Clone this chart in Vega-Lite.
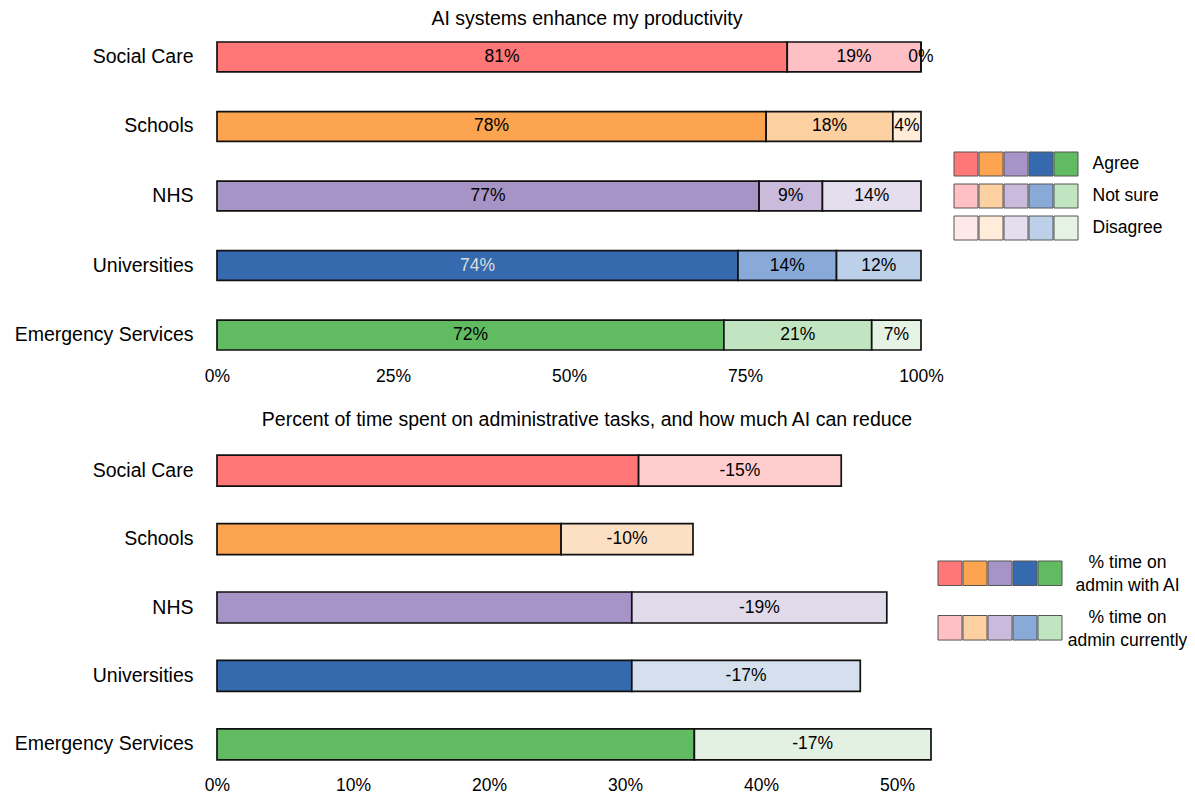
{
  "$schema": "https://vega.github.io/schema/vega-lite/v6.json",
  "padding": {"left": 14, "top": 8, "right": 0, "bottom": 0},
  "config": {
    "view": {"stroke": null},
    "font": "Liberation Sans",
    "locale": {"number": {"decimal": ".", "thousands": ",", "grouping": [3], "currency": ["$", ""], "minus": "-", "percent": "%"}},
    "axis": {"domain": false, "ticks": false, "grid": false, "labelFont": "Liberation Sans", "labelColor": "#000000", "title": null, "labelFlush": false},
    "title": {"font": "Liberation Sans", "fontSize": 19.5, "fontWeight": "normal", "color": "#000000", "anchor": "middle"}
  },
  "datasets": {
    "enhance": [
      {"sector": "Social Care", "response": "Agree", "value": 0.81},
      {"sector": "Social Care", "response": "Not sure", "value": 0.19},
      {"sector": "Social Care", "response": "Disagree", "value": 0.0},
      {"sector": "Schools", "response": "Agree", "value": 0.78},
      {"sector": "Schools", "response": "Not sure", "value": 0.18},
      {"sector": "Schools", "response": "Disagree", "value": 0.04},
      {"sector": "NHS", "response": "Agree", "value": 0.77},
      {"sector": "NHS", "response": "Not sure", "value": 0.09},
      {"sector": "NHS", "response": "Disagree", "value": 0.14},
      {"sector": "Universities", "response": "Agree", "value": 0.74},
      {"sector": "Universities", "response": "Not sure", "value": 0.14},
      {"sector": "Universities", "response": "Disagree", "value": 0.12},
      {"sector": "Emergency Services", "response": "Agree", "value": 0.72},
      {"sector": "Emergency Services", "response": "Not sure", "value": 0.21},
      {"sector": "Emergency Services", "response": "Disagree", "value": 0.07}
    ],
    "admin": [
      {"sector": "Social Care", "measure": "% time on admin with AI", "value": 0.31},
      {"sector": "Social Care", "measure": "% time on admin currently", "value": 0.149, "change": -0.15},
      {"sector": "Schools", "measure": "% time on admin with AI", "value": 0.253},
      {"sector": "Schools", "measure": "% time on admin currently", "value": 0.097, "change": -0.10},
      {"sector": "NHS", "measure": "% time on admin with AI", "value": 0.305},
      {"sector": "NHS", "measure": "% time on admin currently", "value": 0.1875, "change": -0.19},
      {"sector": "Universities", "measure": "% time on admin with AI", "value": 0.305},
      {"sector": "Universities", "measure": "% time on admin currently", "value": 0.168, "change": -0.17},
      {"sector": "Emergency Services", "measure": "% time on admin with AI", "value": 0.351},
      {"sector": "Emergency Services", "measure": "% time on admin currently", "value": 0.174, "change": -0.17}
    ]
  },
  "spacing": 24,
  "vconcat": [
    {
      "bounds": "flush",
      "center": true,
      "spacing": 33,
      "hconcat": [
        {
          "data": {"name": "enhance"},
          "transform": [{"window": [{"op": "row_number", "as": "idx"}]}],
          "title": {"text": "AI systems enhance my productivity", "offset": -2, "dx": 18},
          "width": 704,
          "height": 338,
          "encoding": {
            "y": {"field": "sector", "type": "nominal", "sort": ["Social Care", "Schools", "NHS", "Universities", "Emergency Services"], "scale": {"paddingInner": 0.57, "paddingOuter": 0.216}, "axis": {"labelFontSize": 19.5, "labelPadding": 24}},
            "x": {"field": "value", "type": "quantitative", "stack": "zero", "scale": {"domain": [0, 1], "nice": false}, "axis": {"values": [0, 0.25, 0.5, 0.75, 1], "format": ".0%", "labelFontSize": 17.5, "labelPadding": 2}},
            "detail": {"field": "response", "type": "nominal"},
            "order": {"field": "idx", "type": "quantitative", "sort": "ascending"}
          },
          "layer": [
            {
              "mark": {"type": "bar", "stroke": "#111111", "strokeWidth": 1.7},
              "encoding": {
                "fill": {
                  "condition": [
                    {"test": "datum.sector=='Social Care'&&datum.response=='Agree'", "value": "#ff7777"},
                    {"test": "datum.sector=='Social Care'&&datum.response=='Not sure'", "value": "#ffc0c5"},
                    {"test": "datum.sector=='Social Care'&&datum.response=='Disagree'", "value": "#ffe8ea"},
                    {"test": "datum.sector=='Schools'&&datum.response=='Agree'", "value": "#fca44f"},
                    {"test": "datum.sector=='Schools'&&datum.response=='Not sure'", "value": "#fdd0a2"},
                    {"test": "datum.sector=='Schools'&&datum.response=='Disagree'", "value": "#ffecd9"},
                    {"test": "datum.sector=='NHS'&&datum.response=='Agree'", "value": "#a794c6"},
                    {"test": "datum.sector=='NHS'&&datum.response=='Not sure'", "value": "#cabbdc"},
                    {"test": "datum.sector=='NHS'&&datum.response=='Disagree'", "value": "#e4deee"},
                    {"test": "datum.sector=='Universities'&&datum.response=='Agree'", "value": "#356aae"},
                    {"test": "datum.sector=='Universities'&&datum.response=='Not sure'", "value": "#89aad8"},
                    {"test": "datum.sector=='Universities'&&datum.response=='Disagree'", "value": "#bdd0e9"},
                    {"test": "datum.sector=='Emergency Services'&&datum.response=='Agree'", "value": "#61bb61"},
                    {"test": "datum.sector=='Emergency Services'&&datum.response=='Not sure'", "value": "#c2e5c1"}
                  ],
                  "value": "#e4f3e3"
                }
              }
            },
            {
              "mark": {"type": "text", "fontSize": 17.5, "baseline": "middle", "align": "center"},
              "encoding": {
                "x": {"field": "value", "type": "quantitative", "stack": "zero", "bandPosition": 0.5},
                "text": {"field": "value", "type": "quantitative", "format": ".0%"},
                "fill": {"condition": {"test": "datum.sector=='Universities'&&datum.response=='Agree'", "value": "#dddddd"}, "value": "#000000"}
              }
            }
          ]
        },
        {
          "data": {"name": "enhance"},
          "width": 124,
          "height": 88,
          "mark": {"type": "rect", "stroke": "#555555", "strokeWidth": 1},
          "encoding": {
            "x": {"field": "sector", "type": "nominal", "sort": ["Social Care", "Schools", "NHS", "Universities", "Emergency Services"], "scale": {"paddingInner": 0.04, "paddingOuter": 0}, "axis": null},
            "y": {"field": "response", "type": "nominal", "sort": ["Agree", "Not sure", "Disagree"], "scale": {"paddingInner": 0.25, "paddingOuter": 0}, "axis": {"orient": "right", "labelFontSize": 17.5, "labelPadding": 14}},
            "fill": {
              "condition": [
                {"test": "datum.sector=='Social Care'&&datum.response=='Agree'", "value": "#ff7777"},
                {"test": "datum.sector=='Social Care'&&datum.response=='Not sure'", "value": "#ffc0c5"},
                {"test": "datum.sector=='Social Care'&&datum.response=='Disagree'", "value": "#ffe8ea"},
                {"test": "datum.sector=='Schools'&&datum.response=='Agree'", "value": "#fca44f"},
                {"test": "datum.sector=='Schools'&&datum.response=='Not sure'", "value": "#fdd0a2"},
                {"test": "datum.sector=='Schools'&&datum.response=='Disagree'", "value": "#ffecd9"},
                {"test": "datum.sector=='NHS'&&datum.response=='Agree'", "value": "#a794c6"},
                {"test": "datum.sector=='NHS'&&datum.response=='Not sure'", "value": "#cabbdc"},
                {"test": "datum.sector=='NHS'&&datum.response=='Disagree'", "value": "#e4deee"},
                {"test": "datum.sector=='Universities'&&datum.response=='Agree'", "value": "#356aae"},
                {"test": "datum.sector=='Universities'&&datum.response=='Not sure'", "value": "#89aad8"},
                {"test": "datum.sector=='Universities'&&datum.response=='Disagree'", "value": "#bdd0e9"},
                {"test": "datum.sector=='Emergency Services'&&datum.response=='Agree'", "value": "#61bb61"},
                {"test": "datum.sector=='Emergency Services'&&datum.response=='Not sure'", "value": "#c2e5c1"}
              ],
              "value": "#e4f3e3"
            }
          }
        }
      ]
    },
    {
      "bounds": "flush",
      "center": true,
      "spacing": 7,
      "hconcat": [
        {
          "data": {"name": "admin"},
          "title": {"text": "Percent of time spent on administrative tasks, and how much AI can reduce", "offset": 10, "dx": 13},
          "width": 714,
          "height": 335,
          "encoding": {
            "y": {"field": "sector", "type": "nominal", "sort": ["Social Care", "Schools", "NHS", "Universities", "Emergency Services"], "scale": {"paddingInner": 0.547, "paddingOuter": 0.22}, "axis": {"labelFontSize": 19.5, "labelPadding": 24}},
            "x": {"field": "value", "type": "quantitative", "stack": "zero", "scale": {"domain": [0, 0.525], "nice": false}, "axis": {"values": [0, 0.1, 0.2, 0.3, 0.4, 0.5], "format": ".0%", "labelFontSize": 17.5, "labelPadding": 1}},
            "detail": {"field": "measure", "type": "nominal"},
            "order": {"field": "measure", "sort": "descending"}
          },
          "layer": [
            {
              "mark": {"type": "bar", "stroke": "#111111", "strokeWidth": 1.7},
              "encoding": {
                "fill": {
                  "condition": [
                    {"test": "datum.sector=='Social Care'&&datum.measure=='% time on admin with AI'", "value": "#ff7777"},
                    {"test": "datum.sector=='Social Care'", "value": "#ffcdcd"},
                    {"test": "datum.sector=='Schools'&&datum.measure=='% time on admin with AI'", "value": "#fca44f"},
                    {"test": "datum.sector=='Schools'", "value": "#fde0c4"},
                    {"test": "datum.sector=='NHS'&&datum.measure=='% time on admin with AI'", "value": "#a794c6"},
                    {"test": "datum.sector=='NHS'", "value": "#e1daeb"},
                    {"test": "datum.sector=='Universities'&&datum.measure=='% time on admin with AI'", "value": "#356aae"},
                    {"test": "datum.sector=='Universities'", "value": "#d4e0ee"},
                    {"test": "datum.sector=='Emergency Services'&&datum.measure=='% time on admin with AI'", "value": "#61bb61"}
                  ],
                  "value": "#e3f1e3"
                }
              }
            },
            {
              "mark": {"type": "text", "fontSize": 17.5, "baseline": "middle", "align": "center", "fill": "#000000"},
              "encoding": {
                "x": {"field": "value", "type": "quantitative", "stack": "zero", "bandPosition": 0.5},
                "text": {"condition": {"test": "datum.change == null", "value": ""}, "field": "change", "type": "quantitative", "format": ".0%"}
              }
            }
          ]
        },
        {
          "data": {"name": "admin"},
          "width": 124,
          "height": 93,
          "mark": {"type": "rect", "stroke": "#555555", "strokeWidth": 1},
          "encoding": {
            "x": {"field": "sector", "type": "nominal", "sort": ["Social Care", "Schools", "NHS", "Universities", "Emergency Services"], "scale": {"paddingInner": 0.04, "paddingOuter": 0}, "axis": null},
            "y": {"field": "measure", "type": "nominal", "sort": ["% time on admin with AI", "% time on admin currently"], "scale": {"paddingInner": 0.55, "paddingOuter": 0.128, "align": 0}, "axis": {"orient": "right", "labelFontSize": 17.5, "labelPadding": 65, "labelAlign": "center", "labelLineHeight": 23, "labelOffset": -10, "labelExpr": "datum.value == '% time on admin with AI' ? ['% time on', 'admin with AI'] : ['% time on', 'admin currently']"}},
            "fill": {
              "condition": [
                {"test": "datum.sector=='Social Care'&&datum.measure=='% time on admin with AI'", "value": "#ff7777"},
                {"test": "datum.sector=='Social Care'", "value": "#ffc0c5"},
                {"test": "datum.sector=='Schools'&&datum.measure=='% time on admin with AI'", "value": "#fca44f"},
                {"test": "datum.sector=='Schools'", "value": "#fdd0a2"},
                {"test": "datum.sector=='NHS'&&datum.measure=='% time on admin with AI'", "value": "#a794c6"},
                {"test": "datum.sector=='NHS'", "value": "#cabbdc"},
                {"test": "datum.sector=='Universities'&&datum.measure=='% time on admin with AI'", "value": "#356aae"},
                {"test": "datum.sector=='Universities'", "value": "#89aad8"},
                {"test": "datum.sector=='Emergency Services'&&datum.measure=='% time on admin with AI'", "value": "#61bb61"}
              ],
              "value": "#c2e5c1"
            }
          }
        }
      ]
    }
  ]
}
